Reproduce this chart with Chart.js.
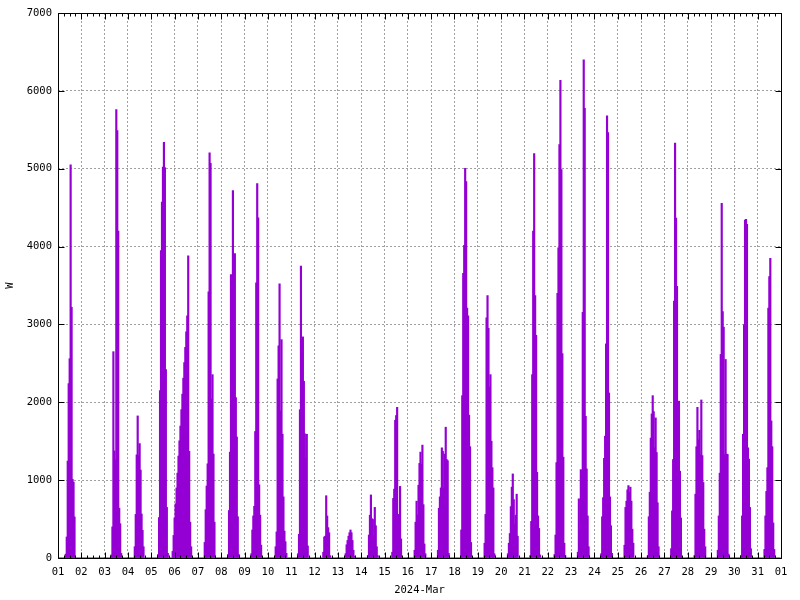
<!DOCTYPE html>
<html>
<head>
<meta charset="utf-8">
<title>2024-Mar</title>
<script src="https://cdn.jsdelivr.net/npm/chart.js@4.4.1/dist/chart.umd.min.js"></script>
<style>
  html, body { margin: 0; padding: 0; background: #fff; }
  canvas { display: block; }
</style>
</head>
<body>
<canvas id="chart" width="800" height="600"></canvas>
<script>
// x axis: hours since 2024-03-01 00:00, one tick per day
const dayLabels = ['01', '02', '03', '04', '05', '06', '07', '08', '09', '10', '11', '12', '13', '14', '15', '16',
  '17', '18', '19', '20', '21', '22', '23', '24', '25', '26', '27', '28', '29', '30', '31', '01'];
const yTicks = [0, 1000, 2000, 3000, 4000, 5000, 6000, 7000];

// hour of the first non-zero sample for each day
const firstHour = [8, 0, 7, 7, 7, -2, 7, 7, 7, 8, 7, 9, 8, 7, 8, 7,
  7, 7, 7, 7, 6, 7, 7, 7, 7, 7, 7, 7, 7, 7, 7];

// hourly power (W) per day, starting at firstHour
const watts = [
  [50, 270, 1245, 2240, 2560, 5050, 3220, 1010, 975, 528],
  [],
  [40, 400, 2650, 1375, 1260, 5760, 5490, 4200, 640, 440, 60],
  [145, 560, 1325, 1825, 1315, 1470, 1130, 565, 355, 145],
  [45, 520, 2150, 3950, 4570, 5020, 5340, 5015, 2420, 650, 60],
  [85, 290, 515, 695, 900, 1090, 1310, 1505, 1695, 1905, 2105, 2310, 2510, 2705, 2905, 3110, 3880, 1370, 460, 145],
  [200, 620, 925, 1210, 3420, 5205, 5070, 2040, 2355, 1335, 460],
  [45, 610, 1360, 3640, 3610, 4720, 3455, 3910, 2060, 1555, 530, 45],
  [55, 360, 540, 665, 1625, 3535, 4810, 4370, 940, 550, 165],
  [145, 335, 2300, 2725, 3520, 1890, 2805, 1590, 785, 345, 210, 60],
  [55, 305, 1905, 3750, 1595, 2840, 2270, 1595, 1285, 1590, 155],
  [75, 270, 280, 800, 540, 390, 325, 30],
  [55, 170, 225, 280, 325, 360, 325, 225, 100, 25],
  [30, 295, 550, 810, 505, 495, 290, 650, 415, 145, 30],
  [75, 765, 885, 1770, 1830, 1935, 560, 530, 920, 245],
  [100, 460, 730, 550, 935, 1215, 1360, 1205, 1450, 685, 180, 55],
  [100, 640, 785, 900, 1415, 1370, 890, 1335, 1680, 1265, 1250, 60],
  [360, 2085, 3655, 4015, 5005, 4835, 3210, 3110, 1835, 1430, 200],
  [190, 560, 3085, 3370, 2950, 2195, 2355, 1500, 1160, 900, 55],
  [55, 190, 315, 660, 910, 1080, 750, 430, 550, 820, 280],
  [30, 470, 2355, 4200, 5195, 3370, 2860, 1100, 540, 380, 40],
  [45, 295, 1225, 3400, 3985, 5310, 6135, 4990, 2625, 1295, 190, 30],
  [75, 760, 345, 1135, 1125, 3155, 6400, 5775, 1820, 1145, 540, 145],
  [55, 530, 775, 1280, 1565, 2750, 5680, 5465, 2120, 785, 415, 60],
  [165, 650, 730, 875, 930, 845, 910, 730, 370, 190],
  [30, 530, 845, 1540, 1850, 2085, 1880, 1415, 1800, 1355, 710, 145],
  [120, 605, 1265, 3300, 5330, 4365, 3490, 1720, 2015, 1115, 515, 20],
  [30, 820, 1430, 1935, 1520, 1640, 1325, 2030, 1315, 970, 370, 145],
  [100, 540, 1090, 2615, 4555, 3165, 2965, 1325, 2550, 1335, 1330, 50],
  [30, 540, 1590, 2995, 4340, 4350, 4285, 1415, 1270, 650, 120],
  [110, 540, 855, 1160, 3210, 3615, 3850, 1760, 1430, 450, 110],
];

const hourly = new Array(31 * 24).fill(0);
watts.forEach((day, d) => day.forEach((w, i) => { hourly[d * 24 + firstHour[d] + i] = w; }));
const points = hourly.map((y, x) => ({ x, y }));

const FONT = { family: "'DejaVu Sans Mono', monospace", size: 10.5 };

// gnuplot style border with inward tics (minor every 6 h)
const frame = {
  id: 'frame',
  afterDatasetsDraw(chart) {
    const { ctx, chartArea: a, scales: { x, y } } = chart;
    const L = a.left + 0.5, R = a.right + 0.5, T = a.top + 0.5, B = a.bottom + 0.5;
    ctx.save();
    ctx.strokeStyle = '#000';
    ctx.lineWidth = 1;
    ctx.beginPath();
    ctx.rect(L, T, R - L, B - T);
    for (let h = 0; h <= 744; h += 6) {
      const px = Math.round(x.getPixelForValue(h)) + 0.5;
      const len = h % 24 === 0 ? 6 : 3;
      ctx.moveTo(px, B); ctx.lineTo(px, B - len);
      ctx.moveTo(px, T); ctx.lineTo(px, T + len);
    }
    yTicks.forEach(v => {
      const py = Math.round(y.getPixelForValue(v)) + 0.5;
      ctx.moveTo(L, py); ctx.lineTo(L + 6, py);
      ctx.moveTo(R, py); ctx.lineTo(R - 6, py);
    });
    ctx.stroke();
    ctx.restore();
  }
};

new Chart(document.getElementById('chart'), {
  type: 'bar',
  data: {
    datasets: [{
      label: 'W',
      data: points,
      backgroundColor: '#9400d3',
      borderWidth: 0,
      barThickness: 1.5,
    }]
  },
  options: {
    responsive: false,
    animation: false,
    layout: { padding: { left: 0, right: 19, top: 13, bottom: 0 } },
    plugins: { legend: { display: false }, tooltip: { enabled: false } },
    scales: {
      x: {
        type: 'linear',
        min: 0,
        max: 744,
        offset: false,
        afterFit: s => { s.height = 42; },
        ticks: {
          stepSize: 24,
          autoSkip: false,
          maxRotation: 0,
          padding: 8,
          color: '#000',
          font: FONT,
          callback: v => dayLabels[v / 24],
        },
        grid: { color: '#a0a0a0', drawTicks: false, offset: false },
        border: { display: false, dash: [2, 2] },
        title: { display: true, text: '2024-Mar', color: '#000', font: FONT, padding: { top: 0, bottom: 3 } },
      },
      y: {
        min: 0,
        max: 7000,
        afterFit: s => { s.width = 58; },
        ticks: { stepSize: 1000, padding: 6, color: '#000', font: FONT, callback: v => String(v) },
        grid: { color: '#a0a0a0', drawTicks: false },
        border: { display: false, dash: [2, 2] },
        title: { display: true, text: 'W', color: '#000', font: FONT, padding: { top: 4, bottom: 0 } },
      }
    }
  },
  plugins: [frame]
});
</script>
</body>
</html>
